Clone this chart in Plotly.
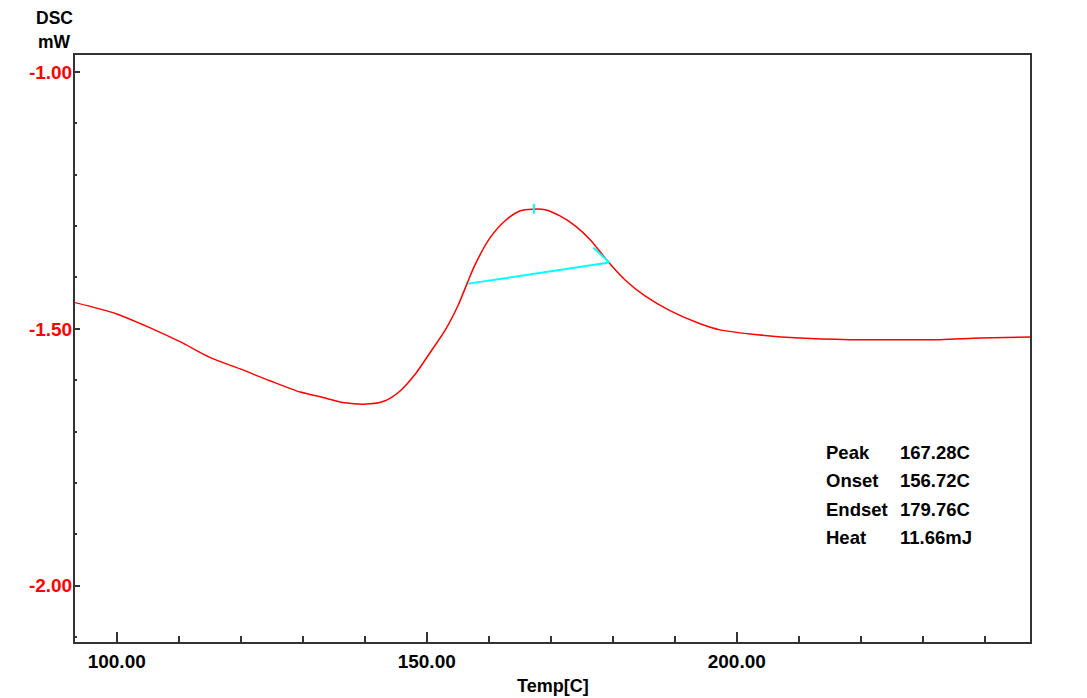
import plotly.graph_objects as go

# DSC curve
temp = [93.3, 100.0, 105.4, 110.2, 115.1, 119.9, 124.7, 129.6, 132.8, 136.8, 140.9, 143.3,
        145.7, 148.1, 150.5, 153.0, 155.1, 156.5, 157.8, 160.2, 162.6, 165.1, 167.2, 169.1,
        171.5, 174.0, 176.4, 179.3, 182.0, 185.2, 189.3, 194.1, 197.3, 202.2, 210.2, 218.3,
        226.3, 232.8, 239.3, 247.3]
dsc = [-1.449, -1.471, -1.498, -1.525, -1.556, -1.578, -1.601, -1.623, -1.632, -1.644, -1.646, -1.640,
       -1.621, -1.589, -1.547, -1.502, -1.453, -1.412, -1.375, -1.323, -1.290, -1.270, -1.267, -1.268,
       -1.280, -1.300, -1.327, -1.370, -1.405, -1.436, -1.465, -1.490, -1.502, -1.510, -1.518, -1.521,
       -1.521, -1.521, -1.518, -1.516]

# analysis overlay
baseline_t = [156.72, 179.45]
baseline_v = [-1.412, -1.371]
tangent_t = [176.9, 179.45]
tangent_v = [-1.342, -1.371]
peak_t = [167.28, 167.28]
peak_v = [-1.257, -1.276]

# results table
res_labels = ["Peak", "Onset", "Endset", "Heat"]
res_values = ["167.28C", "156.72C", "179.76C", "11.66mJ"]
res_y = [-1.741, -1.796, -1.851, -1.906]

xticks = [100, 150, 200]
xtick_text = ["100.00", "150.00", "200.00"]
yticks = [-1.0, -1.5, -2.0]
ytick_text = ["-1.00", "-1.50", "-2.00"]

FONT = "Liberation Sans"

def bfont(size, color="black"):
    return dict(family=FONT, size=size, color=color, weight="bold")

fig = go.Figure()
fig.add_trace(go.Scatter(x=temp, y=dsc, mode="lines",
                         line=dict(color="#FF0000", width=1.5, shape="spline", smoothing=0.8),
                         hoverinfo="skip"))
for xs, ys in [(baseline_t, baseline_v), (tangent_t, tangent_v), (peak_t, peak_v)]:
    fig.add_trace(go.Scatter(x=xs, y=ys, mode="lines", line=dict(color="#00FFFF", width=2), hoverinfo="skip"))

for lab, val, yy in zip(res_labels, res_values, res_y):
    fig.add_annotation(x=214.0, y=yy, xref="x", yref="y", text=lab, showarrow=False,
                       xanchor="left", yanchor="middle", font=bfont(18.5))
    fig.add_annotation(x=226.0, y=yy, xref="x", yref="y", text=val, showarrow=False,
                       xanchor="left", yanchor="middle", font=bfont(18.5))

fig.add_annotation(x=-0.021, y=1.063, xref="paper", yref="paper", text="DSC", showarrow=False,
                   xanchor="center", yanchor="middle", font=bfont(17.5))
fig.add_annotation(x=-0.021, y=1.022, xref="paper", yref="paper", text="mW", showarrow=False,
                   xanchor="center", yanchor="middle", font=bfont(17.5))
fig.add_annotation(x=0.5005, y=-0.075, xref="paper", yref="paper", text="Temp[C]", showarrow=False,
                   xanchor="center", yanchor="middle", font=bfont(18))

fig.update_layout(
    width=1087, height=698,
    margin=dict(l=75, r=57, t=55, b=56),
    paper_bgcolor="white", plot_bgcolor="white",
    showlegend=False,
    xaxis=dict(range=[93.27, 247.3], tickmode="array", tickvals=xticks, ticktext=xtick_text,
               ticks="inside", ticklen=10, tickwidth=2, tickcolor="#333",
               minor=dict(dtick=10, tick0=100, ticks="inside", ticklen=6, tickwidth=2, tickcolor="#333"),
               showline=True, linecolor="#333", linewidth=2, mirror=True, showgrid=False, zeroline=False,
               tickfont=bfont(19), ticklabelstandoff=1),
    yaxis=dict(range=[-2.1095, -0.967], tickmode="array", tickvals=yticks, ticktext=ytick_text,
               ticks="inside", ticklen=5, tickwidth=2, tickcolor="#333",
               minor=dict(dtick=0.1, tick0=-1.0, ticks="inside", ticklen=2, tickwidth=2, tickcolor="#333"),
               showline=True, linecolor="#333", linewidth=2, mirror=True, showgrid=False, zeroline=False,
               tickfont=bfont(19, "#FF0000"), ticklabelstandoff=-3),
)

fig.write_html("out.html")
